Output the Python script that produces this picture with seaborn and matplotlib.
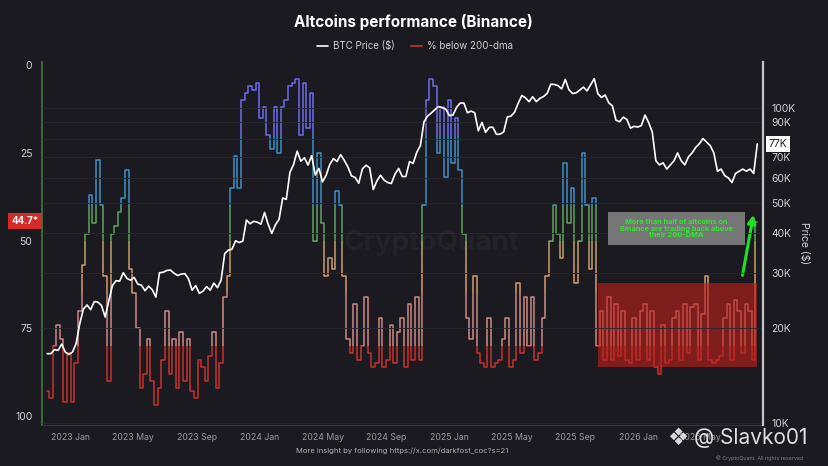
import numpy as np
import pandas as pd
import matplotlib
matplotlib.use("Agg")
import matplotlib.pyplot as plt
from matplotlib.patches import Rectangle
from matplotlib.lines import Line2D
from matplotlib.ticker import FixedLocator, NullLocator, FixedFormatter
import seaborn as sns

# ---------------- data (weekly samples) ----------------
start_date = "2022-11-16"

btc_price_k = [
    16.6, 16.6, 17.1, 17.0, 17.8, 16.8, 16.5, 16.8, 17.9, 20.7,
    23.0, 23.7, 22.9, 24.3, 24.2, 23.6, 21.7, 24.4, 27.3, 28.3,
    28.2, 30.0, 28.8, 28.4, 29.0, 27.6, 27.4, 26.3, 27.2, 26.5,
    25.1, 30.0, 30.1, 30.5, 30.6, 29.9, 29.4, 29.7, 29.8, 28.7,
    26.4, 27.3, 25.8, 26.2, 27.1, 26.4, 27.8, 26.9, 28.4, 34.5,
    35.4, 35.6, 37.9, 37.4, 37.8, 44.1, 42.9, 43.7, 43.4, 42.8,
    46.6, 42.7, 40.0, 42.6, 44.3, 51.8, 51.3, 62.5, 66.1, 73.0,
    67.8, 69.5, 65.9, 70.6, 61.3, 64.3, 58.3, 61.2, 66.2, 69.1,
    67.6, 71.1, 68.2, 65.0, 60.9, 60.2, 57.7, 64.1, 65.8, 64.6,
    55.1, 58.7, 61.2, 59.0, 58.0, 57.6, 61.7, 64.3, 60.6, 60.6,
    67.6, 66.7, 72.3, 75.9, 90.5, 94.3, 96.4, 98.8, 101.1, 100.2,
    99.3, 94.6, 95.0, 100.5, 103.7, 103.7, 96.6, 97.8, 96.6, 84.7,
    90.0, 83.7, 86.8, 86.9, 82.5, 82.6, 84.0, 93.7, 94.2, 97.0,
    103.5, 109.6, 107.8, 104.7, 108.6, 104.8, 107.3, 108.8, 111.3, 119.0,
    118.8, 117.8, 115.0, 123.3, 114.3, 111.2, 111.7, 114.0, 116.5, 113.3,
    118.6, 124.0, 111.0, 108.0, 110.0, 103.9, 101.6, 91.5, 90.5, 93.5,
    92.0, 86.3, 87.5, 87.0, 88.0, 95.0, 90.0, 84.0, 68.0, 66.0,
    67.0, 64.0, 66.0, 68.0, 72.0, 68.0, 66.0, 70.0, 72.0, 75.0,
    77.0, 80.0, 78.0, 76.0, 72.0, 63.0, 64.0, 61.0, 60.0, 58.0,
    62.0, 63.0, 64.0, 63.0, 64.0, 62.0, 77.0,
]

pct_below_200dma = [
    93, 95, 80, 74, 78, 96, 82, 96, 85, 70,
    57, 48, 37, 45, 27, 40, 60, 90, 48, 46,
    42, 38, 30, 58, 65, 75, 92, 88, 78, 90,
    97, 92, 84, 70, 88, 78, 92, 76, 90, 78,
    93, 95, 84, 86, 90, 83, 76, 92, 85, 66,
    60, 35, 26, 35, 10, 8, 6, 7, 5, 15,
    12, 20, 24, 12, 25, 12, 10, 6, 5, 4,
    20, 5, 18, 8, 50, 25, 45, 60, 55, 58,
    36, 40, 60, 78, 82, 68, 84, 80, 66, 82,
    86, 85, 72, 86, 84, 74, 85, 76, 72, 86,
    68, 84, 66, 84, 40, 10, 4, 6, 25, 12,
    32, 10, 28, 15, 30, 48, 72, 78, 60, 82,
    85, 86, 72, 86, 85, 84, 78, 72, 86, 84,
    62, 82, 66, 80, 66, 84, 82, 72, 60, 50,
    40, 48, 55, 28, 45, 35, 62, 50, 25, 40,
    58, 38, 80, 70, 84, 66, 84, 68, 83, 70,
    84, 85, 72, 84, 70, 68, 84, 70, 86, 88,
    74, 85, 84, 72, 70, 84, 68, 82, 69, 68,
    84, 71, 60, 84, 85, 84, 83, 72, 68, 84,
    67, 70, 82, 68, 70, 84, 44.7,
]

xtick_labels = ["2023 Jan", "2023 May", "2023 Sep", "2024 Jan", "2024 May",
                "2024 Sep", "2025 Jan", "2025 May", "2025 Sep", "2026 Jan", "2026 May"]
price_ticks_k = [10, 20, 30, 40, 50, 60, 70, 80, 90, 100]
price_tick_labels = ["10K", "20K", "30K", "40K", "50K", "60K", "70K", "", "90K", "100K"]
pct_ticks = [0, 25, 50, 75, 100]

# colour bands of the % series (value ranges)
band_limits = [(0, 20), (20, 40), (40, 50), (50, 57), (57, 65), (65, 80), (80, 103)]
band_colors = ["#6c6cf0", "#3f8fc4", "#5fa35c", "#bfa06a", "#d49a6e", "#cc8a84", "#c6342c"]

last_pct_label = "44.7*"
last_price_label = "77K"
box_pct_range = (62, 86)
box_dates = ("2025-10-16", "2026-08-18")

# ---------------- styling ----------------
BG = "#1b1a21"
sns.set_theme(style="dark", rc={"axes.facecolor": BG, "figure.facecolor": BG})
plt.rcParams["font.family"] = ["Inter", "DejaVu Sans"]

W, H = 829, 466
fig = plt.figure(figsize=(W / 100, H / 100), dpi=100, facecolor=BG)
ax = fig.add_axes([42 / W, 1 - 425 / H, (763 - 42) / W, (425 - 62) / H])
ax.set_facecolor(BG)

dates = pd.date_range(start_date, periods=len(btc_price_k), freq="7D")
df = pd.DataFrame({"date": dates,
                   "price": np.array(btc_price_k) * 1000.0,
                   "pct": pct_below_200dma})

xmin, xmax = pd.Timestamp("2022-11-06"), pd.Timestamp("2026-08-30")
x0n = matplotlib.dates.date2num(xmin) - 100
x1n = matplotlib.dates.date2num(xmax) + 100

for (lo, hi), col in zip(band_limits, band_colors):
    sns.lineplot(data=df, x="date", y="pct", ax=ax, color=col, lw=1.1,
                 estimator=None, zorder=2, drawstyle="steps-mid")
    line = ax.lines[-1]
    clip = Rectangle((x0n, lo), x1n - x0n, hi - lo, transform=ax.transData)
    line.set_clip_path(clip)

# red highlight box
bx0 = matplotlib.dates.date2num(pd.Timestamp(box_dates[0]))
bx1 = matplotlib.dates.date2num(pd.Timestamp(box_dates[1]))
ax.add_patch(Rectangle((bx0, box_pct_range[0]), bx1 - bx0,
                       box_pct_range[1] - box_pct_range[0],
                       facecolor="#c0201a", alpha=0.6, edgecolor="none", zorder=3))

ax.set_xlim(xmin, xmax)
ax.set_ylim(102.6, -0.9)
ax.set_xlabel("")
ax.set_ylabel("")
ax.yaxis.set_major_locator(FixedLocator(pct_ticks))
ax.set_yticklabels([str(t) for t in pct_ticks])
xt = pd.to_datetime(xtick_labels, format="%Y %b")
ax.set_xticks(xt)
ax.set_xticklabels(xtick_labels)
ax.tick_params(axis="y", colors="#d0d0d0", labelsize=7.5, length=0, pad=7)
ax.tick_params(axis="x", colors="#9a9a9a", labelsize=6.3, length=2, pad=4)
ax.grid(False)
for s in ["top", "right"]:
    ax.spines[s].set_visible(False)
ax.spines["left"].set_color("#3d7a3d")
ax.spines["left"].set_linewidth(1.2)
ax.spines["bottom"].set_color("#34333a")
ax.spines["bottom"].set_linewidth(0.8)

# BTC price on log right axis
ax2 = ax.twinx()
sns.lineplot(data=df, x="date", y="price", ax=ax2, color="white", lw=1.2,
             estimator=None, zorder=4)
ax2.set_yscale("log")
ax2.set_ylim(9855, 140000)
ax2.yaxis.set_major_locator(FixedLocator([p * 1000 for p in price_ticks_k]))
ax2.yaxis.set_major_formatter(FixedFormatter(price_tick_labels))
ax2.yaxis.set_minor_locator(NullLocator())
ax2.tick_params(axis="y", labelcolor="#d0d0d0", labelsize=7.5, length=0, pad=6)
ax2.set_xlabel("")
ax2.set_ylabel("Price ($)", rotation=270, color="#d0d0d0", fontsize=7.5, labelpad=10)
ax2.grid(True, axis="y", color="#28272f", lw=0.6)
ax2.grid(False, axis="x")
for s in ["top", "left", "bottom"]:
    ax2.spines[s].set_visible(False)
ax2.spines["right"].set_color("#c4c4c4")
ax2.spines["right"].set_linewidth(1.6)
ax2.set_xlim(xmin, xmax)

# title and legend
fig.text(413 / W, 1 - 22 / H, "Altcoins performance (Binance)", ha="center", va="center",
         fontsize=11, fontweight="bold", color="white")
handles = [Line2D([], [], color="white", lw=1.2), Line2D([], [], color="#c6342c", lw=1.2)]
fig.legend(handles, ["BTC Price ($)", "% below 200-dma"], loc="center",
           bbox_to_anchor=(415 / W, 1 - 46 / H), ncol=2, frameon=False, fontsize=7,
           labelcolor="#d0d0d0", handlelength=1.2, columnspacing=1.6, handletextpad=0.5)

# watermark
fig.text(432 / W, 1 - 243 / H, "CryptoQuant", ha="center", va="center", fontsize=20,
         color="#ffffff", alpha=0.04, fontweight="bold")

# last value labels
fig.text(25 / W, 1 - 221 / H, last_pct_label, ha="center", va="center", fontsize=7,
         color="white", fontweight="bold",
         bbox=dict(boxstyle="square,pad=0.3", fc="#d42a2a", ec="none"))
fig.text(778 / W, 1 - 144 / H, last_price_label, ha="center", va="center", fontsize=7.5,
         color="#1b1a21", bbox=dict(boxstyle="square,pad=0.25", fc="white", ec="none"))

# annotation box and arrow
fig.patches.append(Rectangle((608 / W, 1 - 245 / H), (745 - 608) / W, 33 / H,
                             transform=fig.transFigure, facecolor="#7c7c7c",
                             edgecolor="none", alpha=0.95, zorder=5))
fig.text(676.5 / W, 1 - 228.5 / H,
         "More than half of altcoins on\nBinance are trading back above\ntheir 200-DMA",
         ha="center", va="center", fontsize=5.3, color="#2ee82e", fontweight="bold",
         linespacing=1.15, zorder=6)
ax.annotate("", xy=(754 / W, 1 - 212 / H), xytext=(742 / W, 1 - 278 / H),
            xycoords="figure fraction", textcoords="figure fraction",
            arrowprops=dict(arrowstyle="-|>", color="#22e022", lw=2.2, mutation_scale=12))

# footer
fig.text(402 / W, 1 - 451 / H, "More insight by following https://x.com/darkfost_coc?s=21",
         ha="center", va="center", fontsize=5.5, color="#b0b0b0")
fig.text(678 / W, 1 - 438 / H, "❖", ha="center", va="center", fontsize=17,
         color="#d8d8d8", family=["DejaVu Sans"])
fig.text(694 / W, 1 - 438 / H, "@ Slavko01", ha="left", va="center", fontsize=15,
         color="#dedede")
fig.text(760 / W, 1 - 458 / H, "© CryptoQuant. All rights reserved", ha="center",
         va="center", fontsize=3.8, color="#808080")

fig.savefig("out.png", dpi=100, facecolor=BG)
